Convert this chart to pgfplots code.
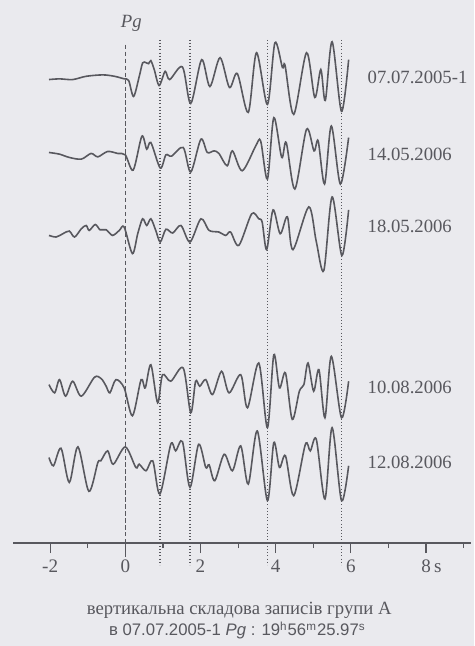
\documentclass[border=0pt]{standalone}
\usepackage{pgfplots}
\usepackage{pgfplotstable}
\pgfplotsset{compat=1.18}
\usepackage{fontspec}
\setmainfont{Liberation Serif}
\newfontfamily\arialfont{Liberation Sans}
\definecolor{paper}{RGB}{234,234,238}
\definecolor{ink}{RGB}{88,88,94}
\pagecolor{paper}

% amplitudes in px of the scan, time in s from Pg
\pgfplotstableread{
t a
-2.03 -2
-1.75 -1.3
-1.40 -2
-1.04 1.3
-0.60 2.7
-0.29 1.3
-0.03 -1.3
0.09 -3
0.22 -19
0.37 1
0.46 14.7
0.55 15
0.62 14
0.68 17
0.77 8
0.90 -8
1.06 6.3
1.18 -2
1.52 10.7
1.74 -26
2.03 18
2.25 -9
2.52 20
2.77 -10
2.98 4
3.27 -35
3.49 25
3.78 -27
3.98 35
4.18 10
4.25 12
4.48 -37
4.82 25
5.04 -20
5.20 8
5.32 -23
5.50 36
5.75 -34
5.94 18
}\traceA

\pgfplotstableread{
t a
-2.03 1.7
-1.75 0
-1.49 -3.3
-1.17 -5
-0.91 0.7
-0.73 -2.7
-0.47 2.7
-0.20 0.7
0.00 -0.7
0.21 -16
0.44 18
0.57 5
0.68 11.7
0.93 -14
1.08 -0.7
1.23 -2
1.54 6.7
1.74 -18
2.01 15
2.18 1.7
2.36 3.3
2.49 0.7
2.71 -11.7
2.85 3.3
3.11 -16.7
3.47 8.3
3.60 13.3
3.78 -25
3.95 36.7
4.16 -3.3
4.28 11.7
4.51 -35
4.82 25
5.02 3.3
5.13 13.3
5.30 -30
5.48 28.3
5.72 -30
5.94 16.7
}\traceB

\pgfplotstableread{
t a
-2.03 -5.7
-1.84 -7.3
-1.66 -4
-1.49 -1.3
-1.35 -7.3
-1.17 1
-1.04 4.3
-0.96 -0.7
-0.80 5.3
-0.67 0
-0.51 0
-0.34 -5.7
-0.16 -0.7
-0.03 2.7
0.19 -24
0.33 -4
0.46 11
0.57 4.3
0.68 11
0.81 -0.7
0.93 -12.3
1.08 0.5
1.26 -3.3
1.48 4.3
1.72 -12.3
2.01 11
2.23 -0.7
2.49 -2.3
2.67 -5.7
2.80 -2.3
3.02 -15.7
3.36 16
3.55 11
3.64 7.7
3.76 -20
3.93 20
4.12 -4
4.31 13
4.46 -20
4.88 23
5.08 -12
5.28 -41
5.50 33
5.76 -26
5.94 20
}\traceC

\pgfplotstableread{
t a
-2.03 1.3
-1.88 -7
-1.75 6.3
-1.59 -10.3
-1.40 4.7
-1.17 -10.3
-0.82 8.7
-0.64 7.3
-0.51 -0.3
-0.41 -7
-0.25 6.3
-0.03 -2
0.19 -30
0.42 6.3
0.53 -2
0.68 21.3
0.86 -17
0.99 11.3
1.21 4.7
1.54 18
1.74 -27
1.87 4.7
1.98 -0.3
2.14 6.3
2.32 -8.7
2.56 14.7
2.76 -7
3.07 11.3
3.25 -22
3.55 23
3.78 -42
3.95 31.3
4.10 -2
4.26 13
4.44 -33.7
4.63 -5.3
4.75 1.3
4.86 23
5.01 -5.3
5.15 16.3
5.31 -32
5.48 29.7
5.75 -32
5.94 4.7
}\traceD

\pgfplotstableread{
t a
-2.03 3
-1.91 -5.3
-1.71 12.3
-1.49 -22
-1.26 13.7
-0.97 -31
-0.73 -2
-0.65 -0.3
-0.47 9.7
-0.32 -3.7
0.00 13.7
0.28 -7
0.37 -3.7
0.55 -10.3
0.73 -0.3
0.92 -33.7
1.21 16.3
1.34 9.7
1.52 19
1.72 -27
1.95 16.3
2.14 -7
2.23 -4.3
2.38 -20.3
2.63 6.3
2.85 -10.3
3.07 14.7
3.27 -23.7
3.51 29.7
3.78 -40.3
3.95 18
4.10 -7
4.26 4.7
4.48 -35.3
4.79 16.3
4.92 9.7
5.08 21.3
5.31 -38.7
5.50 33
5.75 -40.3
5.94 -5.3
}\traceE

\begin{document}
\begin{tikzpicture}
\begin{axis}[
    x=18.9pt, y=0.5pt,
    xmin=-2.98, xmax=9.2,
    ymin=100, ymax=640,
    clip=false,
    axis x line=bottom,
    axis y line=none,
    axis line style={ink, semithick, -},
    xtick={-2,0,2,4,6,8},
    xticklabels={-2,0,2,4,6,8\rlap{\,s}},
    minor xtick={-3,-1,1,3,5,7,9},
    tick align=outside,
    major tick length=5pt,
    minor tick length=2.5pt,
    tick style={ink, semithick},
    xticklabel style={font=\fontsize{9.6}{11}\selectfont, text=ink},
]
% frame of the scan
\path (axis cs:-3.333,0) rectangle (axis cs:9.206,646);

% phase lines
\addplot[ink, semithick, dash pattern=on 2.2pt off 1.3pt] coordinates {(0,601) (0,83)};
\addplot[ink, thick, dash pattern=on 0.5pt off 1.1pt] coordinates {(0.93,606) (0.93,78)};
\addplot[ink, thick, dash pattern=on 0.5pt off 1.1pt] coordinates {(1.72,606) (1.72,78)};
\addplot[ink, thick, dash pattern=on 0.5pt off 1.1pt] coordinates {(3.78,606) (3.78,78)};
\addplot[ink, thick, dash pattern=on 0.5pt off 1.1pt] coordinates {(5.75,606) (5.75,78)};

% seismograms
\addplot[ink, line width=0.8pt, smooth, tension=0.5] table[x=t, y expr=\thisrow{a}+568] {\traceA};
\addplot[ink, line width=0.8pt, smooth, tension=0.5] table[x=t, y expr=\thisrow{a}+491] {\traceB};
\addplot[ink, line width=0.8pt, smooth, tension=0.5] table[x=t, y expr=\thisrow{a}+415] {\traceC};
\addplot[ink, line width=0.8pt, smooth, tension=0.5] table[x=t, y expr=\thisrow{a}+258] {\traceD};
\addplot[ink, line width=0.8pt, smooth, tension=0.5] table[x=t, y expr=\thisrow{a}+183] {\traceE};

\begin{scope}[every node/.style={font=\fontsize{9.4}{11}\selectfont, text=ink}]
\node[anchor=west] at (axis cs:6.26,568) {07.07.2005-1};
\node[anchor=west] at (axis cs:6.26,491) {14.05.2006};
\node[anchor=west] at (axis cs:6.26,418) {18.05.2006};
\node[anchor=west] at (axis cs:6.26,256) {10.08.2006};
\node[anchor=west] at (axis cs:6.26,181) {12.08.2006};
\node at (axis cs:0.16,622) {\itshape Pg};
\node at (axis cs:3.03,32) {вертикальна складова записів групи А};
\node at (axis cs:2.98,12) {\arialfont\fontsize{8.4}{10}\selectfont в 07.07.2005-1 \textit{Pg} : 19\textsuperscript{h}56\textsuperscript{m}25.97\textsuperscript{s}};
\end{scope}
\end{axis}
\end{tikzpicture}
\end{document}
